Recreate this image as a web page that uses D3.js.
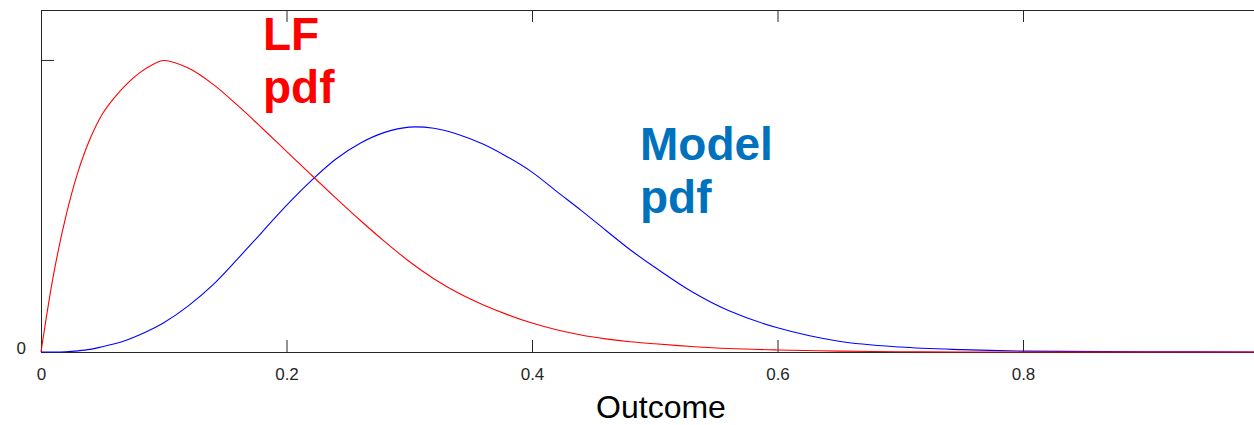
<!DOCTYPE html>
<html>
<head>
<meta charset="utf-8">
<script src="https://cdn.jsdelivr.net/npm/d3@7"></script>
<style>
  body { margin: 0; background: #fff; }
  svg { display: block; font-family: "Liberation Sans", Arial, sans-serif; }
</style>
</head>
<body>
<div id="chart"></div>
<script>
// values (density relative to the LF peak)
const outcome = [0, 0.01, 0.02, 0.03, 0.04, 0.05, 0.06, 0.07, 0.08, 0.09, 0.1, 0.12, 0.14, 0.16, 0.18, 0.2, 0.22, 0.24, 0.26, 0.28, 0.3, 0.32, 0.34, 0.36, 0.38, 0.4, 0.42, 0.44, 0.46, 0.48, 0.5, 0.53, 0.56, 0.6, 0.65, 0.7, 0.75, 0.8, 0.9, 1.0];
const lfPdf = [0, 0.26, 0.46, 0.615, 0.73, 0.815, 0.872, 0.918, 0.955, 0.982, 0.998, 0.972, 0.917, 0.845, 0.767, 0.687, 0.607, 0.528, 0.451, 0.378, 0.31, 0.251, 0.202, 0.162, 0.128, 0.099, 0.076, 0.058, 0.045, 0.035, 0.028, 0.019, 0.012, 0.007, 0.003, 0.001, 0, 0, 0, 0];
const modelPdf = [0, 0, 0.001, 0.004, 0.009, 0.018, 0.028, 0.041, 0.058, 0.078, 0.1, 0.158, 0.23, 0.318, 0.41, 0.502, 0.586, 0.66, 0.715, 0.752, 0.77, 0.766, 0.745, 0.712, 0.668, 0.616, 0.55, 0.485, 0.417, 0.35, 0.29, 0.207, 0.142, 0.083, 0.037, 0.017, 0.008, 0.003, 0.001, 0];

const xTicks = [0, 0.2, 0.4, 0.6, 0.8];
const xTickLabels = ['0', '0.2', '0.4', '0.6', '0.8'];
const yTicks = [0, 1];
const yTickLabels = ['0', ''];

document.addEventListener('DOMContentLoaded', () => {
  drawChart();
});

function drawChart() {
  const width = 1254;
  const height = 425;
  const axisColor = '#262626';

  const svg = d3
    .select('#chart')
    .append('svg')
    .attr('width', width)
    .attr('height', height);

  // plot box runs past the right edge of the picture
  const xScale = d3.scaleLinear().domain([0, 1]).range([41, 1268.5]);
  const yScale = d3.scaleLinear().domain([0, 1.171]).range([352, 10]);

  // bottom axis, ticks pointing in
  const xAxis = d3.axisBottom(xScale)
    .tickValues(xTicks)
    .tickFormat((d, i) => xTickLabels[i])
    .tickSizeInner(-12)
    .tickSizeOuter(0)
    .tickPadding(16);

  const gx = svg.append('g')
    .attr('transform', `translate(0, ${yScale(0)})`)
    .call(xAxis);
  gx.selectAll('text').attr('font-size', 17).attr('fill', axisColor);

  // top axis, ticks only
  const gTop = svg.append('g')
    .attr('transform', `translate(0, ${yScale.range()[1]})`)
    .call(d3.axisTop(xScale).tickValues(xTicks).tickFormat('').tickSizeInner(-12).tickSizeOuter(0));

  // left axis
  const yAxis = d3.axisLeft(yScale)
    .tickValues(yTicks)
    .tickFormat((d, i) => yTickLabels[i])
    .tickSizeInner(-13)
    .tickSizeOuter(0)
    .tickPadding(15);
  const gy = svg.append('g')
    .attr('transform', `translate(${xScale(0)}, 0)`)
    .call(yAxis);
  gy.selectAll('text').attr('font-size', 17).attr('fill', axisColor).attr('dy', '0.08em');

  [gx, gTop, gy].forEach((g) => {
    g.selectAll('path, line').attr('stroke', axisColor).attr('stroke-width', 1);
  });

  // x label
  svg.append('text')
    .attr('x', 661)
    .attr('y', 418)
    .attr('text-anchor', 'middle')
    .attr('font-size', 32)
    .attr('fill', '#000')
    .text('Outcome');

  const line = d3.line()
    .x((d) => xScale(d[0]))
    .y((d) => yScale(d[1]))
    .curve(d3.curveCatmullRom.alpha(0.5));

  const modelData = d3.zip(outcome, modelPdf);
  const lfData = d3.zip(outcome, lfPdf);

  const curves = svg.append('g').attr('class', 'curves');
  curves.append('path')
    .datum(modelData)
    .attr('d', line)
    .attr('fill', 'none')
    .attr('stroke', '#0000ff')
    .attr('stroke-width', 1.1);
  curves.append('path')
    .datum(lfData)
    .attr('d', line)
    .attr('fill', 'none')
    .attr('stroke', '#ff0000')
    .attr('stroke-width', 1.1);

  // in-plot labels
  function addLabel(lines, x, y, color) {
    const t = svg.append('text')
      .attr('x', x)
      .attr('y', y)
      .attr('font-size', 46)
      .attr('font-weight', 'bold')
      .attr('fill', color);
    lines.forEach((s, i) => {
      t.append('tspan').attr('x', x).attr('dy', i === 0 ? 0 : 53).text(s);
    });
  }
  addLabel(['LF', 'pdf'], 263, 50, '#ff0000');
  addLabel(['Model', 'pdf'], 640, 160, '#0072bd');
}
</script>
</body>
</html>
